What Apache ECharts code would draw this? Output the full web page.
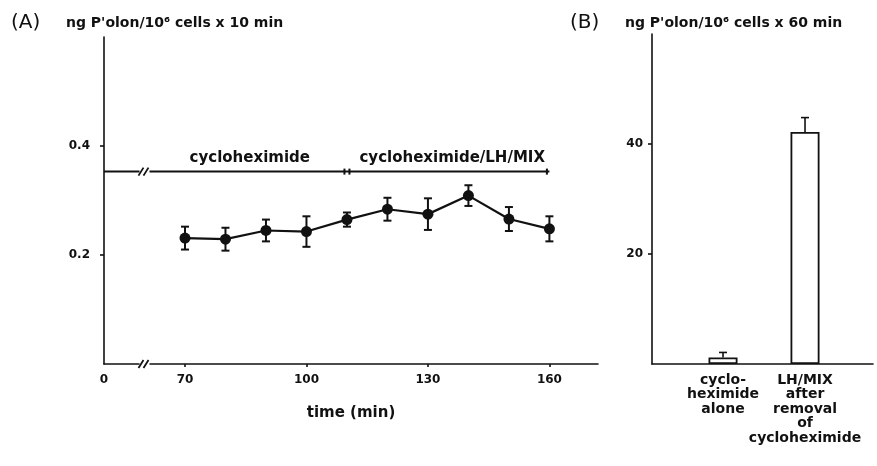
<!DOCTYPE html>
<html>
<head>
<meta charset="utf-8">
<script src="https://cdn.jsdelivr.net/npm/echarts@6/dist/echarts.min.js"></script>
<style>
  html, body { margin: 0; padding: 0; background: #fff; }
  #chart { width: 877px; height: 466px; }
</style>
</head>
<body>
<div id="chart"></div>
<script>
// panel A: progesterone output per 10 min (mean, sem)
const timeMin = [70, 80, 90, 100, 110, 120, 130, 140, 150, 160];
const meanA = [0.231, 0.229, 0.245, 0.243, 0.265, 0.284, 0.275, 0.309, 0.266, 0.248];
const semA = [0.021, 0.021, 0.020, 0.028, 0.013, 0.021, 0.029, 0.019, 0.022, 0.023];
// x axis of A is broken: the position of 50 stands for time 0
const xTicksA = [50, 70, 100, 130, 160];
const yTicksA = [0.2, 0.4];
const breakAt = 60;

// treatment brackets above the curve
const bracketStart = [50, 110];
const bracketEnd = [110, 160];
const bracketText = ['cycloheximide', 'cycloheximide/LH/MIX'];
const bracketLevel = 0.353;

// panel B: output per 60 min
const groupsB = ['cyclo-\nheximide\nalone', 'LH/MIX\nafter\nremoval\nof\ncycloheximide'];
const valuesB = [1.2, 42.2];
const errB = [0.9, 2.6];
const yTicksB = [20, 40];

const ink = '#111';
const FONT = 'DejaVu Sans';
const chart = echarts.init(document.getElementById('chart'));

function renderErr(params, api) {
    const x = api.value(0), m = api.value(1), e = api.value(2);
    const top = api.coord([x, m + e]);
    const bot = api.coord([x, m - e]);
    const st = { stroke: ink, lineWidth: 2 };
    return {
        type: 'group',
        children: [
            { type: 'line', shape: { x1: top[0], y1: top[1], x2: bot[0], y2: bot[1] }, style: st },
            { type: 'line', shape: { x1: top[0] - 4, y1: top[1], x2: top[0] + 4, y2: top[1] }, style: st },
            { type: 'line', shape: { x1: bot[0] - 4, y1: bot[1], x2: bot[0] + 4, y2: bot[1] }, style: st }
        ]
    };
}

function renderErrUp(params, api) {
    const x = api.value(0), m = api.value(1), e = api.value(2);
    const top = api.coord([x, m + e]);
    const base = api.coord([x, m]);
    const st = { stroke: ink, lineWidth: 1.6 };
    return {
        type: 'group',
        children: [
            { type: 'line', shape: { x1: top[0], y1: top[1], x2: base[0], y2: base[1] }, style: st },
            { type: 'line', shape: { x1: top[0] - 4, y1: top[1], x2: top[0] + 4, y2: top[1] }, style: st }
        ]
    };
}

function renderBracket(params, api) {
    const a = api.value(0), b = api.value(1), lv = api.value(2);
    const s = api.coord([a, lv]);
    const e = api.coord([b, lv]);
    const mid = api.coord([(Math.max(a, breakAt) + b) / 2 + 1, lv]);
    const st = { stroke: ink, lineWidth: 2 };
    const kids = [{ type: 'line', shape: { x1: s[0], y1: s[1], x2: e[0], y2: e[1] }, style: st }];
    if (a > 50) kids.push({ type: 'line', shape: { x1: s[0] + 2.5, y1: s[1] - 3, x2: s[0] + 2.5, y2: s[1] + 3 }, style: st });
    kids.push({ type: 'line', shape: { x1: e[0] - 2.5, y1: e[1] - 3, x2: e[0] - 2.5, y2: e[1] + 3 }, style: st });
    kids.push({
        type: 'text',
        style: {
            text: bracketText[params.dataIndex], x: mid[0], y: s[1] - 6,
            align: 'center', verticalAlign: 'bottom',
            font: 'bold 15px "' + FONT + '"', fill: ink
        }
    });
    return { type: 'group', children: kids };
}

function renderBreak(params, api) {
    const p = api.coord([api.value(0), api.value(1)]);
    const st = { stroke: ink, lineWidth: 1.8 };
    return {
        type: 'group',
        children: [
            { type: 'rect', shape: { x: p[0] - 5, y: p[1] - 3, width: 10, height: 6 }, style: { fill: '#fff' } },
            { type: 'line', shape: { x1: p[0] - 6, y1: p[1] + 4, x2: p[0] - 1, y2: p[1] - 4 }, style: st },
            { type: 'line', shape: { x1: p[0] - 1, y1: p[1] + 4, x2: p[0] + 4, y2: p[1] - 4 }, style: st }
        ]
    };
}

const lineStyleAxis = { color: ink, width: 1.6 };
const tickLabel = { color: ink, fontFamily: FONT, fontSize: 12, fontWeight: 'bold' };
const headStyle = { color: ink, fontFamily: FONT, fontSize: 14, fontWeight: 'bold' };
const panelStyle = { color: ink, fontFamily: FONT, fontSize: 20, fontWeight: 'normal' };

const option = {
    animation: false,
    backgroundColor: '#fff',
    title: [
        { text: '(A)', left: 6, top: 8, textStyle: panelStyle },
        { text: "ng P'olon/10\u2076 cells x 10 min", left: 61, top: 11, textStyle: headStyle },
        { text: '(B)', left: 565, top: 8, textStyle: panelStyle },
        { text: "ng P'olon/10\u2076 cells x 60 min", left: 620, top: 11, textStyle: headStyle }
    ],
    grid: [
        { left: 104, top: 37, width: 494, height: 327 },
        { left: 652, top: 34, width: 221, height: 330 }
    ],
    xAxis: [
        {
            gridIndex: 0, type: 'value', min: 50, max: 172,
            name: 'time (min)', nameLocation: 'middle', nameGap: 42,
            nameTextStyle: { color: ink, fontFamily: FONT, fontSize: 15, fontWeight: 'bold' },
            axisLine: { lineStyle: lineStyleAxis },
            axisTick: { customValues: xTicksA.slice(1), length: 3, lineStyle: lineStyleAxis },
            axisLabel: Object.assign({ customValues: xTicksA, margin: 10, formatter: v => (v === 50 ? '0' : String(v)) }, tickLabel),
            splitLine: { show: false }
        },
        {
            gridIndex: 1, type: 'value', min: 0.134, max: 2.829,
            axisLine: { lineStyle: lineStyleAxis },
            axisTick: { show: false },
            axisLabel: { show: false },
            splitLine: { show: false }
        }
    ],
    yAxis: [
        {
            gridIndex: 0, type: 'value', min: 0, max: 0.6,
            axisLine: { show: true, lineStyle: lineStyleAxis },
            axisTick: { show: true, customValues: yTicksA, length: 4, lineStyle: lineStyleAxis },
            axisLabel: Object.assign({ customValues: yTicksA, margin: 14, formatter: v => v.toFixed(1) }, tickLabel),
            splitLine: { show: false }
        },
        {
            gridIndex: 1, type: 'value', min: 0, max: 60,
            axisLine: { show: true, lineStyle: lineStyleAxis },
            axisTick: { show: true, customValues: yTicksB, length: 4, lineStyle: lineStyleAxis },
            axisLabel: Object.assign({ customValues: yTicksB, margin: 9 }, tickLabel),
            splitLine: { show: false }
        }
    ],
    series: [
        {
            type: 'custom', xAxisIndex: 0, yAxisIndex: 0, clip: false, z: 3,
            renderItem: renderBracket,
            data: bracketStart.map((s, i) => [s, bracketEnd[i], bracketLevel])
        },
        {
            type: 'custom', xAxisIndex: 0, yAxisIndex: 0, clip: false, z: 4,
            renderItem: renderBreak,
            data: [[breakAt, 0], [breakAt, bracketLevel]]
        },
        {
            type: 'custom', xAxisIndex: 0, yAxisIndex: 0, z: 3,
            renderItem: renderErr,
            data: timeMin.map((t, i) => [t, meanA[i], semA[i]])
        },
        {
            type: 'line', xAxisIndex: 0, yAxisIndex: 0, z: 5,
            data: timeMin.map((t, i) => [t, meanA[i]]),
            symbol: 'circle', symbolSize: 11,
            lineStyle: { color: ink, width: 2.2 },
            itemStyle: { color: ink }
        },
        {
            type: 'bar', xAxisIndex: 1, yAxisIndex: 1, barWidth: 29,
            data: valuesB.map((v, i) => [i + 1, v]),
            itemStyle: { color: '#fff', borderColor: ink, borderWidth: 1.8 },
            // group names sit under each bar, like the category labels of the original
            label: {
                show: true, position: 'bottom', distance: 9, align: 'center',
                color: ink, fontFamily: FONT, fontSize: 14, fontWeight: 'bold', lineHeight: 14.5,
                formatter: p => groupsB[p.dataIndex]
            }
        },
        {
            type: 'custom', xAxisIndex: 1, yAxisIndex: 1, z: 3,
            renderItem: renderErrUp,
            data: valuesB.map((v, i) => [i + 1, v, errB[i]])
        }
    ]
};

chart.setOption(option);
</script>
</body>
</html>
